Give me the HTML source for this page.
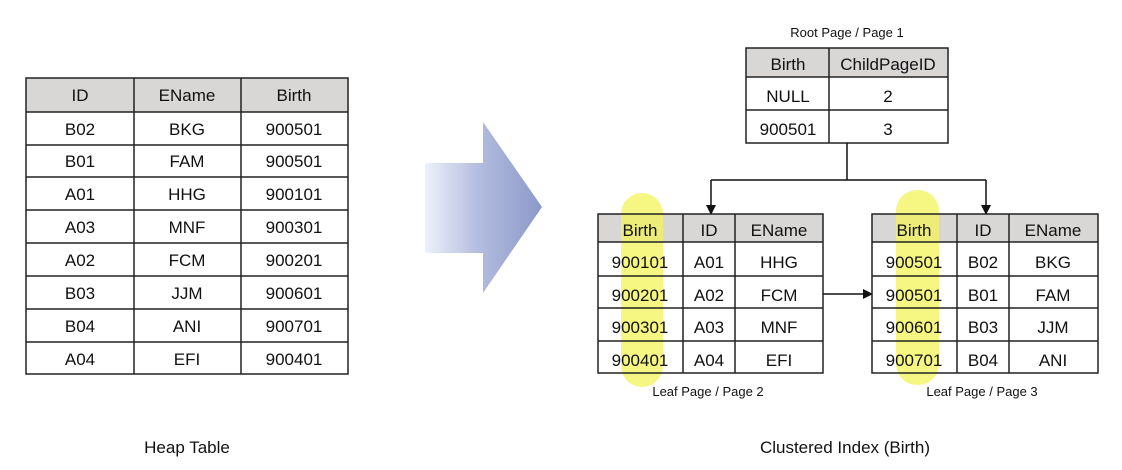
<!DOCTYPE html>
<html><head><meta charset="utf-8"><style>
html,body{margin:0;padding:0;background:#fff;}
svg{display:block;}
text{font-family:"Liberation Sans","NanumGothic",sans-serif;fill:#111;}
</style></head><body>
<svg width="1122" height="470" viewBox="0 0 1122 470" xmlns="http://www.w3.org/2000/svg">
<defs>
<linearGradient id="g" x1="0" x2="1" y1="0" y2="0">
<stop offset="0" stop-color="#eef1fa"/><stop offset="0.45" stop-color="#b3bddf"/><stop offset="1" stop-color="#8c98c8"/>
</linearGradient>
<marker id="ah" markerWidth="10" markerHeight="10" refX="9" refY="5" orient="auto" markerUnits="userSpaceOnUse"><path d="M0,0 L10,5 L0,10 z" fill="#111"/></marker>
</defs>
<!-- big arrow -->
<polygon points="425,163 483,163 483,122 542,207 483,293 483,253 425,253" fill="url(#g)"/>

<!-- Heap table -->
<g font-size="17" text-anchor="middle">
<rect x="26" y="78" width="322" height="34" fill="#d9d6d6"/>
<rect x="26" y="78" width="322" height="296" fill="none" stroke="#222" stroke-width="1.5"/>
<g stroke="#222" stroke-width="1.5">
<line x1="134" y1="78" x2="134" y2="374"/><line x1="241" y1="78" x2="241" y2="374"/>
<line x1="26" y1="112" x2="348" y2="112"/><line x1="26" y1="145" x2="348" y2="145"/><line x1="26" y1="177" x2="348" y2="177"/><line x1="26" y1="210" x2="348" y2="210"/><line x1="26" y1="243" x2="348" y2="243"/><line x1="26" y1="276" x2="348" y2="276"/><line x1="26" y1="309" x2="348" y2="309"/><line x1="26" y1="342" x2="348" y2="342"/>
</g>
<text x="80" y="101">ID</text><text x="187" y="101">EName</text><text x="294" y="101">Birth</text>
<text x="80" y="135">B02</text><text x="187" y="135">BKG</text><text x="294" y="135">900501</text>
<text x="80" y="167">B01</text><text x="187" y="167">FAM</text><text x="294" y="167">900501</text>
<text x="80" y="200">A01</text><text x="187" y="200">HHG</text><text x="294" y="200">900101</text>
<text x="80" y="233">A03</text><text x="187" y="233">MNF</text><text x="294" y="233">900301</text>
<text x="80" y="266">A02</text><text x="187" y="266">FCM</text><text x="294" y="266">900201</text>
<text x="80" y="299">B03</text><text x="187" y="299">JJM</text><text x="294" y="299">900601</text>
<text x="80" y="332">B04</text><text x="187" y="332">ANI</text><text x="294" y="332">900701</text>
<text x="80" y="365">A04</text><text x="187" y="365">EFI</text><text x="294" y="365">900401</text>
<text x="187" y="453" font-size="17">Heap Table</text>
<text x="845" y="453" font-size="17">Clustered Index (Birth)</text>
<text x="847" y="37" font-size="13">Root Page / Page 1</text>
<text x="708" y="396" font-size="13">Leaf Page / Page 2</text>
<text x="982" y="396" font-size="13">Leaf Page / Page 3</text>
</g>

<!-- Root -->
<g font-size="17" text-anchor="middle">
<rect x="746" y="48" width="202" height="29" fill="#d9d6d6"/>
<rect x="746" y="48" width="202" height="95" fill="none" stroke="#222" stroke-width="1.5"/>
<g stroke="#222" stroke-width="1.5"><line x1="829" y1="48" x2="829" y2="143"/><line x1="746" y1="77" x2="948" y2="77"/><line x1="746" y1="110" x2="948" y2="110"/></g>
<text x="788" y="70">Birth</text><text x="888" y="70">ChildPageID</text>
<text x="788" y="102">NULL</text><text x="888" y="102">2</text>
<text x="788" y="135">900501</text><text x="888" y="135">3</text>
</g>
<!-- connectors -->
<g stroke="#111" stroke-width="1.5" fill="none">
<line x1="847" y1="143" x2="847" y2="180"/>
<line x1="711" y1="180" x2="986" y2="180"/>
<line x1="711" y1="180" x2="711" y2="214" marker-end="url(#ah)"/>
<line x1="986" y1="180" x2="986" y2="214" marker-end="url(#ah)"/>
<line x1="823" y1="294" x2="872" y2="294" marker-end="url(#ah)"/>
</g>

<!-- Leaf 1 -->
<g font-size="17" text-anchor="middle">
<rect x="598" y="214" width="225" height="28" fill="#d9d6d6"/>
<rect x="621" y="193" width="42" height="194" rx="21" fill="#f3f35a" opacity="0.75"/>
<rect x="598" y="214" width="225" height="159" fill="none" stroke="#222" stroke-width="1.5"/>
<g stroke="#222" stroke-width="1.5"><line x1="683" y1="214" x2="683" y2="373"/><line x1="735" y1="214" x2="735" y2="373"/><line x1="598" y1="242" x2="823" y2="242"/><line x1="598" y1="276" x2="823" y2="276"/><line x1="598" y1="308" x2="823" y2="308"/><line x1="598" y1="341" x2="823" y2="341"/></g>
<text x="640" y="236">Birth</text><text x="709" y="236">ID</text><text x="779" y="236">EName</text>
<text x="640" y="268">900101</text><text x="709" y="268">A01</text><text x="779" y="268">HHG</text>
<text x="640" y="301">900201</text><text x="709" y="301">A02</text><text x="779" y="301">FCM</text>
<text x="640" y="333">900301</text><text x="709" y="333">A03</text><text x="779" y="333">MNF</text>
<text x="640" y="366">900401</text><text x="709" y="366">A04</text><text x="779" y="366">EFI</text>
</g>
<!-- Leaf 2 -->
<g font-size="17" text-anchor="middle">
<rect x="872" y="214" width="226" height="28" fill="#d9d6d6"/>
<rect x="896" y="190" width="43" height="195" rx="21" fill="#f3f35a" opacity="0.75"/>
<rect x="872" y="214" width="226" height="159" fill="none" stroke="#222" stroke-width="1.5"/>
<g stroke="#222" stroke-width="1.5"><line x1="957" y1="214" x2="957" y2="373"/><line x1="1009" y1="214" x2="1009" y2="373"/><line x1="872" y1="242" x2="1098" y2="242"/><line x1="872" y1="276" x2="1098" y2="276"/><line x1="872" y1="308" x2="1098" y2="308"/><line x1="872" y1="341" x2="1098" y2="341"/></g>
<text x="914" y="236">Birth</text><text x="983" y="236">ID</text><text x="1053" y="236">EName</text>
<text x="914" y="268">900501</text><text x="983" y="268">B02</text><text x="1053" y="268">BKG</text>
<text x="914" y="301">900501</text><text x="983" y="301">B01</text><text x="1053" y="301">FAM</text>
<text x="914" y="333">900601</text><text x="983" y="333">B03</text><text x="1053" y="333">JJM</text>
<text x="914" y="366">900701</text><text x="983" y="366">B04</text><text x="1053" y="366">ANI</text>
</g>
</svg>
</body></html>
